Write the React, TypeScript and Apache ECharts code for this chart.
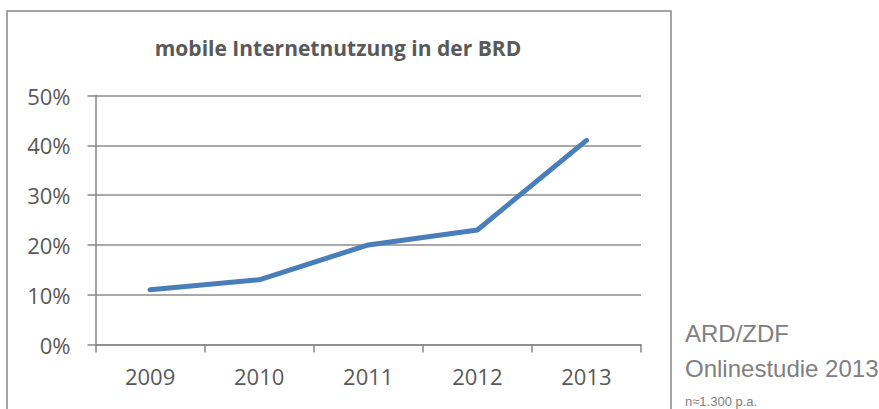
import React, { useEffect, useRef } from "react";
import * as echarts from "echarts";

const years = ["2009", "2010", "2011", "2012", "2013"];
const usage = [11, 13, 20, 23, 41];
const title = "mobile Internetnutzung in der BRD";
const sourceLines = ["ARD/ZDF", "Onlinestudie 2013"];
const sampleNote = "n≈1.300 p.a.";

export default function App() {
  const ref = useRef<HTMLDivElement>(null);
  useEffect(() => {
    if (!ref.current) return;
    const chart = echarts.init(ref.current, undefined, { renderer: "svg" });
    chart.setOption({
      animation: false,
      backgroundColor: "#ffffff",
      grid: { left: 95.5, right: 238, top: 95.5, bottom: 64.5 },
      xAxis: {
        type: "category",
        data: years,
        boundaryGap: true,
        axisLine: { lineStyle: { color: "#878787", width: 1.5 } },
        axisTick: { show: true, length: 8, lineStyle: { color: "#878787", width: 1.5 } },
        axisLabel: { fontFamily: "Open Sans", fontSize: 22, color: "#595959", margin: 20 },
      },
      yAxis: {
        type: "value",
        min: 0,
        max: 50,
        interval: 10,
        axisLine: { show: true, lineStyle: { color: "#878787", width: 1.5 } },
        axisTick: { show: true, length: 8, lineStyle: { color: "#878787", width: 1.5 } },
        axisLabel: { fontFamily: "Open Sans", fontSize: 22, color: "#595959", margin: 25, formatter: "{value}%" },
        splitLine: { lineStyle: { color: "#8c8c8c", width: 1.5 } },
      },
      series: [
        {
          type: "line",
          data: usage,
          symbol: "none",
          lineStyle: { color: "#4a7ebb", width: 5, cap: "round", join: "round" },
        },
      ],
      graphic: [
        {
          type: "rect",
          shape: { x: 7, y: 11, width: 664, height: 420 },
          style: { fill: "none", stroke: "#878787", lineWidth: 1.5 },
          silent: true,
        },
        {
          type: "text",
          x: 338,
          y: 48,
          style: { text: title, fontFamily: "Open Sans", fontWeight: "bold", fontSize: 21, fill: "#595959", textAlign: "center", textVerticalAlign: "middle" },
        },
        {
          type: "text",
          x: 685,
          y: 333,
          style: { text: sourceLines[0], fontFamily: "Liberation Sans", fontSize: 24, fill: "#808080", textVerticalAlign: "middle" },
        },
        {
          type: "text",
          x: 685,
          y: 368,
          style: { text: sourceLines[1], fontFamily: "Liberation Sans", fontSize: 24, fill: "#808080", textVerticalAlign: "middle" },
        },
        {
          type: "text",
          x: 685,
          y: 401,
          style: { text: sampleNote, fontFamily: "Liberation Sans", fontSize: 13, fill: "#808080", textVerticalAlign: "middle" },
        },
      ],
    });
    return () => chart.dispose();
  }, []);
  return <div ref={ref} style={{ position: "fixed", left: 0, top: 0, width: 879, height: 409 }} />;
}
